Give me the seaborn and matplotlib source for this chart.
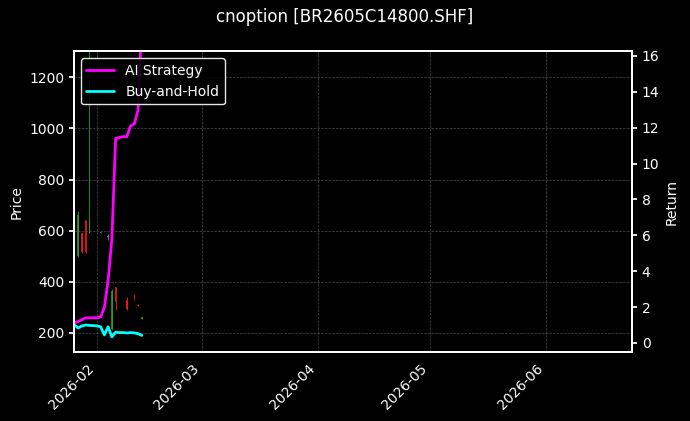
import numpy as np
import pandas as pd
import matplotlib
matplotlib.use("Agg")
import matplotlib.pyplot as plt
import matplotlib.dates as mdates
import seaborn as sns

sns.set_theme(style="dark")
plt.style.use("dark_background")
plt.rcParams['font.family'] = ['DejaVu Sans']
plt.rcParams['font.size'] = 10

line_dates = pd.date_range("2026-01-26", periods=19, freq="D")
ai_strategy = [1.12, 1.2, 1.3, 1.4, 1.4, 1.4, 1.4, 1.45, 2.0, 3.5, 5.8, 11.4, 11.45, 11.5, 11.5, 12.1, 12.2, 13.0, 18.0]
buy_hold = [1.0, 0.84, 0.95, 1.0, 0.98, 0.97, 0.95, 0.9, 0.45, 0.9, 0.34, 0.6, 0.58, 0.58, 0.56, 0.58, 0.56, 0.52, 0.42]

candle_days = [0, 1, 2, 3, 4, 7, 9, 10, 11, 14, 16, 17, 18]
c_open = [690, 500, 590, 640, 590, 592, 575, 215, 380, 330, 349, 310, 255]
c_high = [690, 675, 592, 643, 1350, 594, 585, 370, 380, 341, 349, 312, 262]
c_low = [670, 498, 514, 514, 590, 590, 565, 212, 290, 290, 329, 304, 253]
c_close = [670, 660, 515, 515, 640, 592, 575, 365, 320, 295, 335, 306, 262]

fig, ax = plt.subplots(figsize=(6.9, 4.21), dpi=100)
fig.patch.set_facecolor("black")
ax.set_facecolor("black")

cdates = line_dates[candle_days]
for d, o, h, l, c in zip(cdates, c_open, c_high, c_low, c_close):
    col = "#2ca02c" if c > o else ("#ff1a1a" if c < o else "#888888")
    ax.vlines(d, l, h, color=col, linewidth=0.8, alpha=0.8)
    ax.bar(d, max(abs(c - o), 3), bottom=min(o, c), width=0.4, color=col, alpha=0.8, linewidth=0)

ax.set_ylim(125, 1302)
ax.set_ylabel("Price", color="white", fontsize=10)
ax.grid(True, color="gray", linestyle="--", linewidth=0.5, alpha=0.6)

ax2 = ax.twinx()
df = pd.DataFrame({"date": line_dates, "AI Strategy": ai_strategy, "Buy-and-Hold": buy_hold})
sns.lineplot(data=df, x="date", y="AI Strategy", ax=ax2, color="#ff00ff", linewidth=2, label="AI Strategy")
sns.lineplot(data=df, x="date", y="Buy-and-Hold", ax=ax2, color="#00ffff", linewidth=2, label="Buy-and-Hold")
ax2.set_ylim(-0.5, 16.25)
ax2.set_ylabel("Return", color="white", fontsize=10)
ax2.set_xlabel("")
ax2.legend(loc="upper left", facecolor="black", edgecolor="white", framealpha=0.9, fontsize=10)

ax.set_xlim(pd.Timestamp("2026-01-25 20:00"), pd.Timestamp("2026-06-24"))
ax.xaxis.set_major_locator(mdates.MonthLocator())
ax.xaxis.set_major_formatter(mdates.DateFormatter("%Y-%m"))
plt.setp(ax.get_xticklabels(), rotation=45, ha="right")
ax.set_xlabel("")
for a in (ax, ax2):
    a.tick_params(labelsize=10, length=3.5)
    for s in a.spines.values():
        s.set_color("white")
fig.suptitle("cnoption [BR2605C14800.SHF]", color="white", fontsize=12)
fig.subplots_adjust(left=0.107, right=0.916, top=0.878, bottom=0.164)
fig.savefig("out.png", dpi=100, facecolor="black")
